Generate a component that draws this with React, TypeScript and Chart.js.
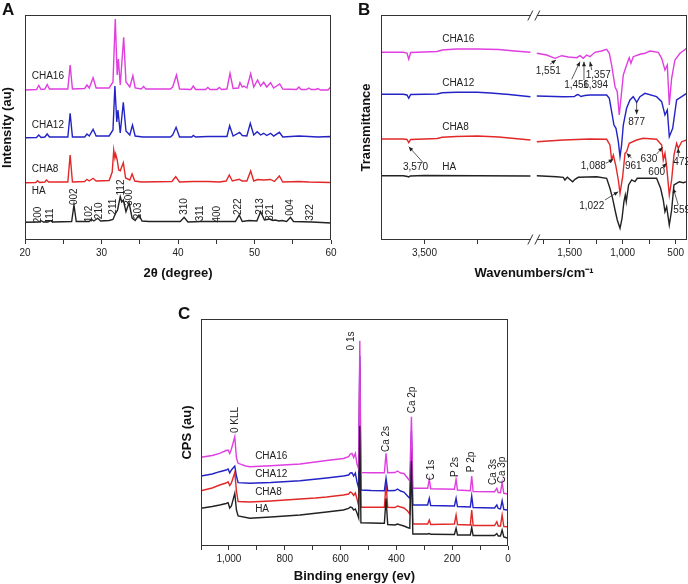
import React, { useEffect, useRef } from 'react';
import { Chart, registerables } from 'chart.js';
Chart.register(...registerables);

const FONT = '"Liberation Sans", Arial, Helvetica, sans-serif';
Chart.defaults.font.family = FONT;

const COL_CHA16 = '#e03ee0';
const COL_CHA12 = '#2323c6';
const COL_CHA8 = '#e22828';
const COL_HA = '#222222';

// ---------- Panel A: XRD (2θ, intensity a.u.) ----------
const XRD_CHA16: number[][] = [
  [20, 150], [21.5, 150.5], [21.8, 154.5], [22.1, 150.5], [22.6, 151], [22.9, 155.5], [23.2, 151], [25.6, 151],
  [25.9, 175], [26.2, 151], [27.8, 151.5], [28.1, 155], [28.4, 152], [28.9, 162.3], [29.3, 152], [31.0, 152],
  [31.5, 158], [31.8, 221], [32.05, 165], [32.2, 181], [32.45, 155], [32.9, 202.7], [33.2, 158], [33.7, 153],
  [34.1, 164.3], [34.4, 152], [35.2, 151], [35.5, 153.5], [35.8, 151], [39.0, 151], [39.3, 153], [39.8, 165],
  [40.2, 151], [41.7, 150.5], [42.0, 154], [42.3, 150.5], [43.6, 150.5], [43.9, 152.5], [44.2, 150.5],
  [45.1, 150.5], [45.4, 152.5], [45.7, 150.5], [46.4, 151], [46.8, 166.7], [47.2, 151.5], [47.9, 152],
  [48.1, 157.3], [48.4, 153], [48.6, 154], [49.0, 152], [49.5, 166.3], [49.9, 153], [50.4, 160], [50.8, 154],
  [51.2, 157.7], [51.6, 153], [52.1, 157.3], [52.5, 152], [53.3, 156], [53.7, 151], [55.5, 150.5], [55.8, 153],
  [56.1, 150.5], [56.8, 150.5], [57.1, 152], [57.4, 150.5], [58.0, 150.5], [58.3, 151.5], [58.6, 150],
  [59.6, 150], [59.9, 152.5], [60, 151],
];
const XRD_CHA12: number[][] = [
  [20, 102.3], [21.5, 102.5], [21.8, 105], [22.1, 102.5], [22.6, 103], [22.9, 106], [23.2, 103], [25.6, 103],
  [25.9, 126.7], [26.2, 103], [27.8, 103], [28.1, 106], [28.4, 104], [28.9, 110.7], [29.3, 104], [31.0, 104],
  [31.5, 110], [31.75, 154], [32.0, 118], [32.15, 130], [32.45, 107], [32.85, 137.7], [33.2, 109], [33.7, 105],
  [34.05, 115], [34.4, 104], [35.4, 103], [39.0, 103], [39.3, 105], [39.75, 112.7], [40.2, 103], [41.8, 103],
  [42.0, 104.5], [42.3, 103], [43.9, 103.5], [46.4, 103.5], [46.75, 114.3], [47.2, 104], [48.05, 107.7],
  [48.4, 104.5], [49.0, 104], [49.45, 116.7], [49.9, 105], [50.35, 108.3], [50.8, 105], [51.2, 106.7],
  [51.6, 104.5], [52.1, 106.7], [52.5, 104], [53.25, 107.7], [53.7, 103], [55.8, 104], [57.1, 103.5],
  [58.3, 103], [59.9, 103.5], [60, 102.5],
];
const XRD_CHA8: number[][] = [
  [20, 57.3], [21.4, 57.5], [21.65, 59.3], [21.9, 57.5], [22.6, 58], [22.8, 60], [23.1, 58], [25.6, 58],
  [25.9, 85], [26.2, 58], [27.8, 58.5], [28.1, 60.7], [28.4, 59], [28.9, 61.7], [29.3, 59], [31.0, 59.5],
  [31.4, 68], [31.6, 90], [31.75, 82], [31.85, 86], [32.05, 80], [32.25, 70], [32.45, 69.3], [32.85, 77.3],
  [33.15, 62], [33.7, 60], [34.0, 66], [34.35, 59], [35.2, 58], [39.2, 58.5], [39.7, 63.3], [40.2, 58],
  [42.0, 58.5], [43.9, 58.5], [45.4, 58], [46.3, 59], [46.7, 65], [47.1, 59], [48.0, 60.7], [48.4, 59],
  [49.0, 59], [49.5, 69], [49.9, 59], [50.4, 60.5], [51.2, 60], [52.1, 60.5], [52.6, 58.5], [53.25, 64],
  [53.7, 58], [55.8, 58.5], [57.1, 58], [59.9, 57.5], [60, 57.3],
];
const XRD_HA: number[][] = [
  [20, 17.7], [21.8, 18], [22.1, 19.3], [22.4, 18], [23.0, 18], [23.3, 19.3], [23.6, 18], [26.1, 18.5],
  [26.4, 35], [26.7, 18.5], [28.4, 18.5], [28.7, 20.7], [29.0, 19], [29.5, 21.7], [29.9, 19], [31.0, 19.5],
  [31.5, 20.5], [31.8, 26], [32.1, 30], [32.45, 43.3], [32.65, 38], [32.85, 40], [33.2, 28.3], [33.6, 37.3],
  [34.0, 22], [34.4, 19.5], [34.9, 25], [35.3, 19], [36.2, 18.5], [40.3, 18.5], [40.8, 22.7], [41.3, 18],
  [43.0, 18.5], [45.2, 18.5], [46.6, 18.5], [47.5, 18.5], [48.0, 25], [48.4, 18.5], [49.3, 19.5], [50.3, 19],
  [50.8, 28.3], [51.3, 20], [52.0, 21], [52.4, 19.5], [52.7, 20], [53.2, 19], [53.6, 19.5], [54.2, 18.5],
  [54.7, 22.7], [55.1, 18.5], [57.5, 18], [60, 17],
];
const XRD_PEAK_LABELS: [string, number, number][] = [
  ['200', 21.74, 25], ['111', 23.27, 24], ['002', 26.45, 43.3], ['102', 28.4, 26], ['210', 29.67, 29.2],
  ['211', 31.55, 33.3], ['112', 32.55, 52.5], ['300', 33.64, 42.5], ['203', 34.82, 29.2], ['310', 40.78, 33.5],
  ['311', 42.88, 26.7], ['400', 45.19, 25.8], ['222', 47.89, 33.3], ['213', 50.72, 33.5], ['321', 52.03, 27.5],
  ['004', 54.73, 32.5], ['322', 57.25, 27.5],
];
const XRD_CURVE_LABELS: [string, number, number][] = [
  ['CHA16', 20.88, 163.3], ['CHA12', 20.88, 115], ['CHA8', 20.88, 70.7], ['HA', 20.88, 48.3],
];

// ---------- Panel B: FTIR (wavenumber cm-1, transmittance a.u.) ----------
const FTIR_CHA16: number[][] = [
  [3910, 187.7], [3700, 187.7], [3665, 187], [3648, 180.7], [3630, 187.5], [3500, 188], [3380, 188.5],
  [3333, 190], [3200, 191], [3000, 191], [2800, 190.5], [2650, 189], [2500, 187.7],
  [1810, 186.7], [1717, 185], [1639, 181.7], [1575, 184.3], [1512, 183], [1434, 182.3], [1403, 184.3],
  [1372, 181.7], [1340, 185], [1309, 183.3], [1262, 187.7], [1200, 189], [1151, 190.7], [1126, 186.7],
  [1104, 175], [1072, 153.3], [1051, 148.3], [1032, 125], [1016, 141.7], [994, 165], [963, 175], [938, 182.3],
  [922, 176.7], [900, 183.3], [837, 185.7], [790, 186.7], [743, 189], [664, 187.7], [632, 181.7], [601, 170],
  [579, 175], [560, 135], [538, 161.7], [507, 180], [459, 186.7], [396, 191.7],
];
const FTIR_CHA12: number[][] = [
  [3910, 145.7], [3700, 145.7], [3665, 145], [3648, 141.7], [3630, 145.5], [3500, 145.7], [3380, 146],
  [3333, 147.3], [3200, 147.7], [3000, 147.7], [2877, 147], [2700, 145.5], [2500, 143.3],
  [1810, 144], [1560, 143.3], [1456, 143.5], [1434, 145], [1420, 145.5], [1394, 143.5], [1357, 144.5],
  [1309, 145], [1151, 145], [1126, 141.7], [1104, 128.3], [1082, 115], [1063, 111.7], [1041, 98.3],
  [1025, 83.3], [1010, 95], [994, 115], [963, 131.7], [931, 140], [900, 143.3], [868, 137.7], [837, 143.3],
  [790, 146.7], [680, 143.3], [632, 138.3], [601, 125], [579, 130], [560, 103.3], [528, 111.7], [491, 140],
  [443, 143.3], [396, 146.7],
];
const FTIR_CHA8: number[][] = [
  [3910, 101], [3700, 101], [3665, 100.5], [3648, 97.3], [3630, 100.5], [3500, 101], [3380, 101.5],
  [3333, 102.7], [3200, 103.5], [3000, 104], [2800, 103], [2650, 101.5], [2500, 100],
  [1810, 98.3], [1560, 100], [1309, 101], [1151, 100.7], [1120, 95], [1104, 80], [1088, 85], [1063, 73.3],
  [1041, 60], [1025, 46.7], [1000, 63.3], [978, 86.7], [963, 88.3], [938, 96.7], [868, 100], [805, 101.7],
  [680, 100.7], [632, 95], [617, 80], [601, 86.7], [585, 73.3], [560, 45], [538, 60], [516, 85], [491, 96.7],
  [475, 91.7], [443, 98.3], [396, 100],
];
const FTIR_HA: number[][] = [
  [3910, 64.3], [3700, 64.3], [3660, 63.5], [3648, 63], [3635, 64], [3500, 64.5], [3000, 64.3], [2500, 64],
  [1810, 64.3], [1623, 63.3], [1560, 62.7], [1545, 60], [1522, 62.7], [1472, 58.3], [1450, 60.7],
  [1419, 62.7], [1246, 63.3], [1151, 61.7], [1120, 51.7], [1095, 41.7], [1072, 30], [1051, 20], [1025, 11.7],
  [1006, 21.7], [988, 38.3], [975, 45], [966, 38.3], [944, 55], [915, 60], [884, 58.3], [862, 61.7],
  [680, 61.7], [642, 51.7], [617, 40], [601, 28.3], [585, 33.3], [560, 15], [538, 30], [516, 55], [491, 56.7],
  [466, 58.3], [428, 57.3], [396, 58.3],
];
const FTIR_TICKS = [3500, 3000, 1750, 1500, 1250, 1000, 750, 500];
const FTIR_TICK_LABELS = [3500, 1500, 1000, 500];
const FTIR_CURVE_LABELS: [string, number, number][] = [
  ['CHA16', 3333, 201], ['CHA12', 3333, 157], ['CHA8', 3333, 113], ['HA', 3333, 72.7],
];
const FTIR_PEAK_LABELS: [string, number, number][] = [
  ['3,570', 3585, 72.7], ['1,551', 1702, 168.3], ['1,456', 1434, 154.3], ['1,394', 1255, 154.3],
  ['1,357', 1230, 164.3], ['877', 868, 117.7], ['1,088', 1277, 73.3], ['961', 900, 73.3], ['630', 752, 81],
  ['600', 679, 67.3], ['472', 443, 77.7], ['1,022', 1292, 34], ['559', 443, 30],
];
const FTIR_ARROWS: number[][] = [
  [3507, 76.7, 3648, 93.3], [1686, 175.7, 1629, 180], [1481, 160.7, 1403, 178.3], [1365, 160, 1365, 178.3],
  [1292, 170, 1308, 178.3], [868, 137.7, 868, 125.7], [1158, 76.7, 1089, 80.7], [915, 81.7, 962, 86.7],
  [679, 86, 623, 92.7], [632, 71.7, 585, 76.7], [475, 83.3, 475, 91.7], [1167, 40, 1042, 48.3],
  [475, 35, 523, 51.7],
];

// ---------- Panel C: XPS (binding energy eV, CPS a.u.) ----------
const XPS_CHA16: number[][] = [
  [1100, 88.7], [1060, 90.5], [1033, 92.7], [1010, 95.5], [1003, 96], [997, 92.5], [991, 97], [979, 109.3],
  [973, 88], [967, 82.7], [940, 80], [925, 79.3], [850, 80.2], [745, 82], [650, 85.5], [590, 87.5],
  [571, 89.3], [565, 92], [559, 92.7], [553, 88.5], [547, 92.7], [541, 82], [535, 77], [531, 205.3],
  [527, 73.5], [490, 73.3], [443, 73.3], [437, 92.7], [431, 73.3], [405, 73.5], [396, 75], [385, 73],
  [373, 72.5], [360, 68], [352, 65], [346, 129.3], [341, 57.7], [288, 57.7], [282, 66.7], [277, 57.3],
  [192, 56.7], [186, 66.7], [181, 56], [135, 55.3], [130, 70], [125, 54.5], [48, 54.3], [40, 57.7],
  [35, 53.5], [27, 53.3], [21, 63.3], [15, 52.7], [0, 52],
];
const XPS_CHA12: number[][] = [
  [1100, 70], [1060, 72], [1033, 74.3], [1010, 76], [1003, 77], [997, 73], [991, 76], [979, 80], [973, 70],
  [967, 63.3], [925, 62.7], [850, 63.5], [745, 65.3], [650, 68], [590, 70], [571, 71], [565, 73], [559, 73.3],
  [553, 70], [547, 73], [541, 64], [535, 57.7], [531, 190], [527, 56], [490, 55.5], [443, 55.3], [437, 67.7],
  [431, 55.3], [405, 55.5], [396, 57], [385, 55], [373, 54], [360, 50], [352, 47.7], [346, 115], [341, 41],
  [288, 41], [282, 47.7], [277, 40.5], [192, 40], [186, 47.7], [181, 39.5], [135, 39], [130, 50], [125, 38.5],
  [48, 38], [40, 41], [35, 37.5], [27, 37], [21, 45.3], [15, 36.5], [0, 36],
];
const XPS_CHA8: number[][] = [
  [1100, 55.3], [1060, 58], [1033, 61], [1010, 63], [1003, 64.3], [997, 60.5], [991, 63], [979, 73.5],
  [973, 55], [967, 44.5], [925, 44], [850, 45], [745, 47], [690, 48], [650, 49], [590, 51],
  [571, 52], [565, 54], [559, 53], [553, 50.5], [547, 53], [541, 47], [535, 40], [531, 180], [527, 38.7],
  [490, 38.7], [443, 38.7], [437, 62.7], [431, 38.7], [405, 38.5], [396, 40], [385, 39], [373, 38], [360, 35],
  [352, 32], [346, 105], [341, 22], [288, 22], [282, 26], [277, 21.5], [192, 22], [186, 31], [181, 21.5],
  [135, 21], [130, 36], [125, 20.5], [48, 20.5], [40, 24.3], [35, 20], [27, 20], [21, 31], [15, 19.5], [0, 19.3],
];
const XPS_HA: number[][] = [
  [1100, 37.7], [1060, 39.5], [1033, 41], [1010, 42.5], [1003, 43.3], [997, 38], [991, 40], [979, 52.7],
  [973, 36], [967, 30], [925, 27.7], [850, 29], [745, 31], [650, 34], [590, 36], [571, 37.7], [565, 39],
  [559, 38.5], [553, 36], [547, 37], [541, 33], [535, 28], [531, 120], [527, 23.3], [490, 23], [457, 22.7],
  [443, 22.7], [437, 47.7], [431, 21.5], [405, 21], [396, 22], [385, 21], [373, 20], [360, 18.5], [352, 17.7],
  [346, 85], [341, 12], [288, 12], [282, 12.5], [277, 11.7], [192, 11.5], [186, 17.7], [181, 11], [135, 11],
  [130, 18.7], [125, 10.5], [48, 10.5], [40, 12.5], [35, 10], [27, 10], [21, 16], [15, 9], [0, 7.7],
];
const XPS_CURVE_LABELS: [string, number, number][] = [
  ['CHA16', 906, 89.3], ['CHA12', 906, 71.7], ['CHA8', 906, 53.3], ['HA', 906, 37],
];
const XPS_PEAK_LABELS: [string, number, number][] = [
  ['0 KLL', 975.5, 126], ['0 1s', 561, 205], ['Ca 2p', 342, 146], ['Ca 2s', 437, 107], ['C 1s', 276, 76],
  ['P 2s', 190, 79], ['P 2p', 130, 84], ['Ca 3s', 54, 74], ['Ca 3p', 21.6, 76],
];

// ---------- helpers ----------
const ftirX = (wn: number) => (wn > 2000 ? wn - 630 : wn);

type Note = { text: string; x: number; y: number; rot?: boolean; align?: CanvasTextAlign };
type Arrow = { x1: number; y1: number; x2: number; y2: number };

function decor(notes: Note[], arrows: Arrow[], mapX: (v: number) => number, brk?: number) {
  return {
    id: 'decor',
    afterDraw(chart: any) {
      const { ctx, chartArea: a } = chart;
      const xs = chart.scales.x;
      const ys = chart.scales.y;
      const X = (v: number) => xs.getPixelForValue(mapX(v));
      const Y = (v: number) => ys.getPixelForValue(v);
      ctx.save();
      ctx.strokeStyle = '#333';
      ctx.lineWidth = 1;
      const l = Math.round(a.left) + 0.5;
      const t = Math.round(a.top) + 0.5;
      const r = Math.round(a.right) - 0.5;
      const b = Math.round(a.bottom) - 0.5;
      ctx.strokeRect(l, t, r - l, b - t);
      if (brk !== undefined) {
        const bx = xs.getPixelForValue(brk);
        for (const yy of [t, b]) {
          ctx.fillStyle = '#fff';
          ctx.fillRect(bx - 3, yy - 2, 6, 4);
          ctx.beginPath();
          ctx.moveTo(bx - 6, yy + 5);
          ctx.lineTo(bx - 1, yy - 5);
          ctx.moveTo(bx + 1, yy + 5);
          ctx.lineTo(bx + 6, yy - 5);
          ctx.stroke();
        }
      }
      ctx.fillStyle = '#222';
      ctx.font = `10px ${FONT}`;
      ctx.textBaseline = 'middle';
      for (const n of notes) {
        const px = X(n.x);
        const py = Y(n.y);
        if (n.rot) {
          ctx.save();
          ctx.translate(px, py);
          ctx.rotate(-Math.PI / 2);
          ctx.textAlign = 'center';
          ctx.fillText(n.text, 0, 0);
          ctx.restore();
        } else {
          ctx.textAlign = n.align || 'center';
          ctx.fillText(n.text, px, py);
        }
      }
      ctx.lineWidth = 0.8;
      ctx.strokeStyle = '#333';
      ctx.fillStyle = '#222';
      for (const ar of arrows) {
        const x1 = X(ar.x1), y1 = Y(ar.y1), x2 = X(ar.x2), y2 = Y(ar.y2);
        ctx.beginPath();
        ctx.moveTo(x1, y1);
        ctx.lineTo(x2, y2);
        ctx.stroke();
        const ang = Math.atan2(y2 - y1, x2 - x1);
        const L = 4.5, W = 2;
        ctx.beginPath();
        ctx.moveTo(x2, y2);
        ctx.lineTo(x2 - L * Math.cos(ang) + W * Math.sin(ang), y2 - L * Math.sin(ang) - W * Math.cos(ang));
        ctx.lineTo(x2 - L * Math.cos(ang) - W * Math.sin(ang), y2 - L * Math.sin(ang) + W * Math.cos(ang));
        ctx.closePath();
        ctx.fill();
      }
      ctx.restore();
    },
  };
}

const ds = (label: string, pts: number[][], color: string, mapX: (v: number) => number = (v) => v, gapAt?: number) => {
  const data: any[] = [];
  pts.forEach(([x, y], i) => {
    if (gapAt !== undefined && i > 0 && pts[i - 1][0] > gapAt && x < gapAt) data.push({ x: mapX(gapAt), y: null });
    data.push({ x: mapX(x), y });
  });
  return { label, data, borderColor: color, backgroundColor: color, borderWidth: 1.4, pointRadius: 0, tension: 0, spanGaps: false };
};

const titleFont = { family: FONT, size: 13, weight: 'bold' as const };
const tickFont = { family: FONT, size: 10 };

function baseOptions(pad: any, yWidth: number, xHeight: number, yTitle: string, yTitlePad: number, xTitle: string, xTitlePad: number, yMax: number) {
  return {
    animation: false,
    responsive: false,
    events: [],
    layout: { padding: pad },
    plugins: { legend: { display: false }, tooltip: { enabled: false } },
    scales: {
      x: {
        type: 'linear',
        ticks: { autoSkip: false, maxRotation: 0, padding: 3, color: '#222', font: tickFont },
        grid: { drawOnChartArea: false, drawTicks: true, tickLength: 4, color: '#333', lineWidth: 1 },
        border: { display: false },
        title: { display: true, text: xTitle, font: titleFont, color: '#111', padding: { top: 0, bottom: xTitlePad } },
        afterFit: (s: any) => { s.height = xHeight; },
      },
      y: {
        type: 'linear',
        min: 0,
        max: yMax,
        ticks: { display: false },
        grid: { display: false },
        border: { display: false },
        title: { display: true, text: yTitle, font: titleFont, color: '#111', padding: { top: yTitlePad, bottom: 0 } },
        afterFit: (s: any) => { s.width = yWidth; },
      },
    },
  } as any;
}

function useChart(ref: React.RefObject<HTMLCanvasElement>, build: () => any) {
  useEffect(() => {
    if (!ref.current) return;
    const chart = new Chart(ref.current, build());
    return () => chart.destroy();
  }, []);
}

export default function App() {
  const refA = useRef<HTMLCanvasElement>(null);
  const refB = useRef<HTMLCanvasElement>(null);
  const refC = useRef<HTMLCanvasElement>(null);

  useChart(refA, () => {
    const opts = baseOptions({ top: 15, right: 9, left: 0, bottom: 0 }, 25, 50, 'Intensity (au)', 0, '2θ (degree)', 9, 225);
    opts.scales.x.min = 20;
    opts.scales.x.max = 60;
    opts.scales.x.ticks.stepSize = 5;
    opts.scales.x.ticks.callback = (v: number) => (v % 10 === 0 ? String(v) : '');
    const notes: Note[] = [
      ...XRD_CURVE_LABELS.map(([text, x, y]) => ({ text, x, y, align: 'left' as CanvasTextAlign })),
      ...XRD_PEAK_LABELS.map(([text, x, y]) => ({ text, x, y, rot: true })),
    ];
    return {
      type: 'line',
      data: {
        datasets: [
          ds('CHA16', XRD_CHA16, COL_CHA16),
          ds('CHA12', XRD_CHA12, COL_CHA12),
          ds('CHA8', XRD_CHA8, COL_CHA8),
          ds('HA', XRD_HA, COL_HA),
        ],
      },
      options: opts,
      plugins: [decor(notes, [], (v) => v)],
    };
  });

  useChart(refB, () => {
    const opts = baseOptions({ top: 15, right: 1, left: 0, bottom: 0 }, 41, 50, 'Transmittance', 19, 'Wavenumbers/cm\u207B\u00B9', 9, 225);
    opts.scales.x.min = 393;
    opts.scales.x.max = 3280;
    opts.scales.x.reverse = true;
    opts.scales.x.afterBuildTicks = (s: any) => {
      s.ticks = FTIR_TICKS.map((w) => ({ value: ftirX(w) }));
    };
    opts.scales.x.ticks.callback = (v: number) => {
      const wn = v > 1850 ? v + 630 : v;
      return FTIR_TICK_LABELS.includes(wn) ? wn.toLocaleString('en-US') : '';
    };
    const notes: Note[] = [
      ...FTIR_CURVE_LABELS.map(([text, x, y]) => ({ text, x, y, align: 'left' as CanvasTextAlign })),
      ...FTIR_PEAK_LABELS.map(([text, x, y]) => ({ text, x, y })),
    ];
    const arrows: Arrow[] = FTIR_ARROWS.map(([x1, y1, x2, y2]) => ({ x1, y1, x2, y2 }));
    return {
      type: 'line',
      data: {
        datasets: [
          ds('CHA16', FTIR_CHA16, COL_CHA16, ftirX, 2200),
          ds('CHA12', FTIR_CHA12, COL_CHA12, ftirX, 2200),
          ds('CHA8', FTIR_CHA8, COL_CHA8, ftirX, 2200),
          ds('HA', FTIR_HA, COL_HA, ftirX, 2200),
        ],
      },
      options: opts,
      plugins: [decor(notes, arrows, ftirX, 1838)],
    };
  });

  useChart(refC, () => {
    const opts = baseOptions({ top: 24, right: 12, left: 0, bottom: 0 }, 41, 38, 'CPS (au)', 20, 'Binding energy (ev)', 0, 227);
    opts.scales.x.min = 0;
    opts.scales.x.max = 1100;
    opts.scales.x.reverse = true;
    opts.scales.x.ticks.stepSize = 100;
    opts.scales.x.ticks.callback = (v: number) => (v % 200 === 0 ? v.toLocaleString('en-US') : '');
    const notes: Note[] = [
      ...XPS_CURVE_LABELS.map(([text, x, y]) => ({ text, x, y, align: 'left' as CanvasTextAlign })),
      ...XPS_PEAK_LABELS.map(([text, x, y]) => ({ text, x, y, rot: true })),
    ];
    return {
      type: 'line',
      data: {
        datasets: [
          ds('HA', XPS_HA, COL_HA),
          ds('CHA16', XPS_CHA16, COL_CHA16),
          ds('CHA12', XPS_CHA12, COL_CHA12),
          ds('CHA8', XPS_CHA8, COL_CHA8),
        ],
      },
      options: opts,
      plugins: [decor(notes, [], (v) => v)],
    };
  });

  const letter = (t: string, left: number, top: number) => (
    <div style={{ position: 'absolute', left, top, font: `bold 17px ${FONT}`, lineHeight: '17px', color: '#111' }}>{t}</div>
  );

  return (
    <div style={{ position: 'fixed', left: 0, top: 0, width: 688, height: 584, background: '#fff', overflow: 'hidden' }}>
      <canvas ref={refA} width={340} height={290} style={{ position: 'absolute', left: 0, top: 0 }} />
      <canvas ref={refB} width={348} height={290} style={{ position: 'absolute', left: 340, top: 0 }} />
      <canvas ref={refC} width={360} height={289} style={{ position: 'absolute', left: 160, top: 295 }} />
      {letter('A', 2, 1)}
      {letter('B', 358, 1)}
      {letter('C', 178, 305)}
    </div>
  );
}
